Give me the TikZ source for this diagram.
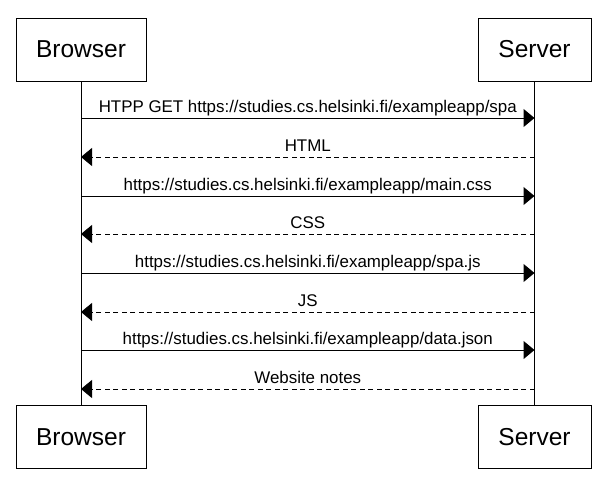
\documentclass[tikz,border=0pt]{standalone}
\usepackage{fontspec}
\setmainfont{Liberation Sans}
\usetikzlibrary{arrows.meta}
\begin{document}
\begin{tikzpicture}[x=1pt,y=-1pt,
  actor/.style={draw, line width=1pt, minimum height=63pt, inner sep=0pt,
    font=\fontsize{24.5}{28}\selectfont},
  life/.style={line width=1pt},
  req/.style={line width=1pt, -{Triangle[length=11pt,width=18pt]}},
  resp/.style={line width=1pt, dash pattern=on 5pt off 3.5pt, -{Triangle[length=11pt,width=18pt]}},
  lbl/.style={midway, anchor=base, yshift=6pt, inner sep=0pt,
    font=\fontsize{16.9}{19}\selectfont}]
\useasboundingbox (0,0) rectangle (610,479);
\fill[white] (0,0) rectangle (610,479);
\node[actor, minimum width=130pt] (bt) at (81,49.5) {Browser};
\node[actor, minimum width=113pt] (st) at (534.5,49.5) {Server};
\node[actor, minimum width=130pt] (bb) at (81,437) {Browser};
\node[actor, minimum width=113pt] (sb) at (534.5,437) {Server};
\draw[life] (bt.south) -- (bb.north);
\draw[life] (st.south) -- (sb.north);
\coordinate (b1) at (81,118);   \coordinate (s1) at (534.5,118);
\coordinate (b2) at (81,157);   \coordinate (s2) at (534.5,157);
\coordinate (b3) at (81,196);   \coordinate (s3) at (534.5,196);
\coordinate (b4) at (81,234);   \coordinate (s4) at (534.5,234);
\coordinate (b5) at (81,273);   \coordinate (s5) at (534.5,273);
\coordinate (b6) at (81,312);   \coordinate (s6) at (534.5,312);
\coordinate (b7) at (81,350);   \coordinate (s7) at (534.5,350);
\coordinate (b8) at (81,389);   \coordinate (s8) at (534.5,389);
\draw[req] (b1) -- node[lbl]{HTPP GET https://studies.cs.helsinki.fi/exampleapp/spa} (s1);
\draw[resp] (s2) -- node[lbl]{HTML} (b2);
\draw[req] (b3) -- node[lbl]{https://studies.cs.helsinki.fi/exampleapp/main.css} (s3);
\draw[resp] (s4) -- node[lbl]{CSS} (b4);
\draw[req] (b5) -- node[lbl]{https://studies.cs.helsinki.fi/exampleapp/spa.js} (s5);
\draw[resp] (s6) -- node[lbl]{JS} (b6);
\draw[req] (b7) -- node[lbl]{https://studies.cs.helsinki.fi/exampleapp/data.json} (s7);
\draw[resp] (s8) -- node[lbl]{Website notes} (b8);
\end{tikzpicture}
\end{document}
